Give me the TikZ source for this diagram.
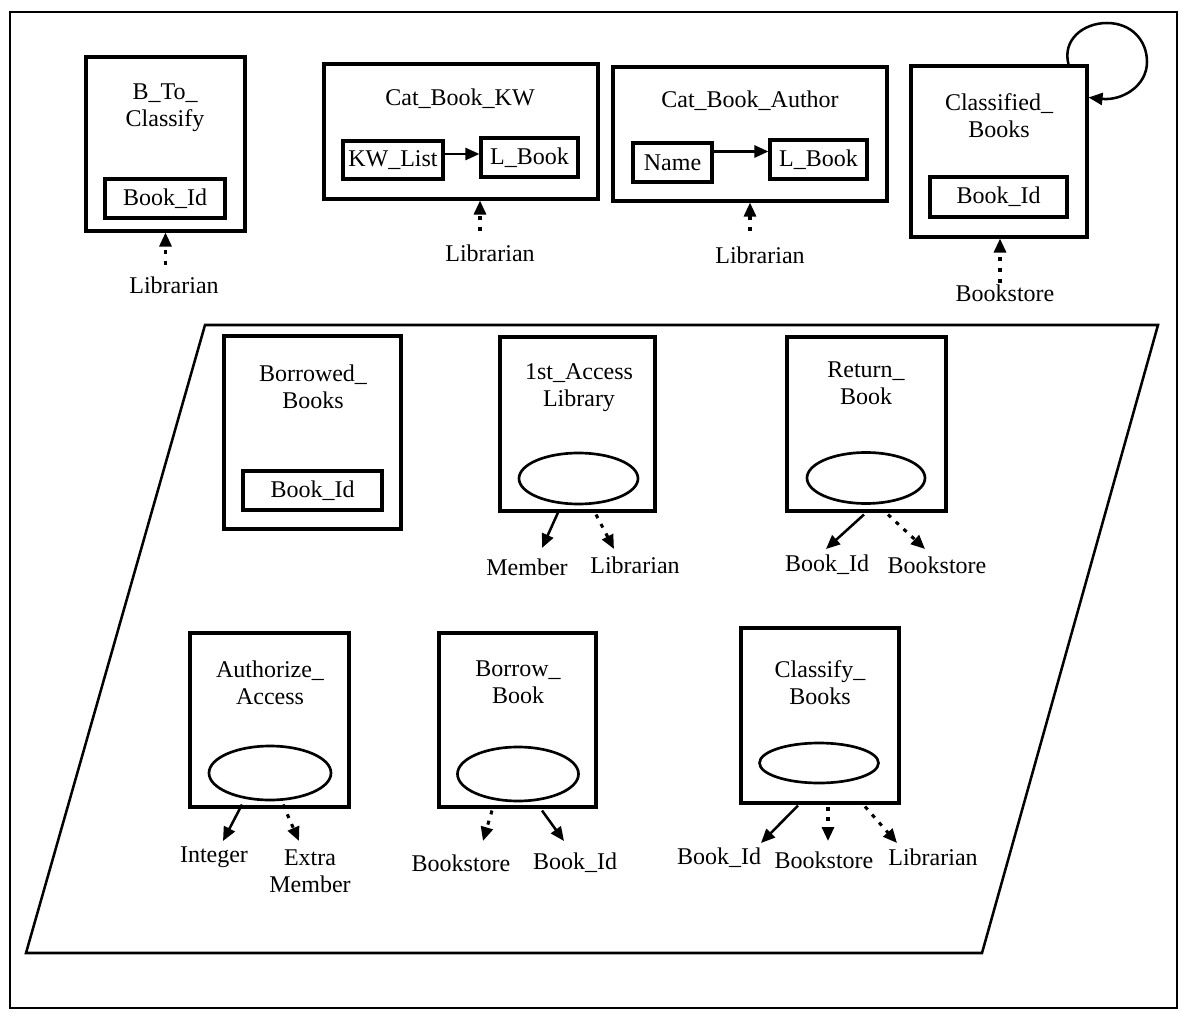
\documentclass[tikz,border=0pt]{standalone}
\usepackage{fontspec}
\setmainfont{Liberation Serif}
\usetikzlibrary{arrows.meta,calc,shapes.geometric}
\begin{document}
\begin{tikzpicture}[x=0.75pt,y=-0.75pt,
  bigbox/.style={draw,line width=2.3pt,inner sep=0pt},
  ibox/.style={draw,line width=2.3pt,inner sep=0pt,font=\fontsize{18}{20.25}\selectfont},
  txt/.style={inner sep=0pt,align=center,font=\fontsize{18}{20.25}\selectfont},
  oval/.style={draw,ellipse,line width=2pt,inner sep=0pt},
  solidarr/.style={line width=1.9pt,-{Triangle[length=10.5pt,width=9pt]}},
  dotarr/.style={line width=2.3pt,dash pattern=on 3pt off 5pt,-{Triangle[length=10.5pt,width=9pt]}},
]
\useasboundingbox (0,0) rectangle (1182,1013);
% outer frame
\draw[line width=2.2pt] (10,12) rectangle (1177,1008);
% parallelogram
\draw[line width=1.9pt] (205,325) -- (1158,325) -- (982,953) -- (26,953) -- cycle;

% ---------- top row ----------
\node[bigbox,minimum width=119.25pt,minimum height=130.5pt] (btc) at (165.5,144) {};
\node[txt] (btct) at (165,108) {B\_To\_\\Classify};
\node[ibox,minimum width=90pt,minimum height=29.25pt] (bid1) at (165,198.5) {Book\_Id};
\node[txt] (lib1) at (174,285) {Librarian};
\draw[dotarr] ($(btc.south)+(0,32)$) -- (btc.south);

\node[bigbox,minimum width=205.5pt,minimum height=101.25pt] (kw) at (461,131.5) {};
\node[txt] (kwt) at (460,99) {Cat\_Book\_KW};
\node[ibox,minimum width=75pt,minimum height=28.5pt] (kwl) at (393,160) {KW\_List};
\node[ibox,minimum width=72.75pt,minimum height=29.25pt] (lb1) at (529.5,157.5) {L\_Book};
\draw[solidarr] ($(kwl.east)+(0,-6)$) -- ($(kwl.east -| lb1.west)+(0,-6)$);
\node[txt] (lib2) at (490,253) {Librarian};
\draw[dotarr] ($(kw.south)+(19,30)$) -- ($(kw.south)+(19,0)$);

\node[bigbox,minimum width=205.5pt,minimum height=100.5pt] (au) at (750,134) {};
\node[txt] (aut) at (750,101) {Cat\_Book\_Author};
\node[ibox,minimum width=59.25pt,minimum height=29.25pt] (nm) at (672.5,162.5) {Name};
\node[ibox,minimum width=72.75pt,minimum height=29.25pt] (lb2) at (818.5,159.5) {L\_Book};
\draw[solidarr] ($(nm.east)+(0,-11)$) -- ($(nm.east -| lb2.west)+(0,-11)$);
\node[txt] (lib3) at (760,255) {Librarian};
\draw[dotarr] ($(au.south)+(0,28)$) -- (au.south);

\node[bigbox,minimum width=132pt,minimum height=128.25pt] (cb) at (999,151.5) {};
\node[txt] (cbt) at (999,115.5) {Classified\_\\Books};
\node[ibox,minimum width=102.75pt,minimum height=30pt] (bid2) at (998.5,197) {Book\_Id};
\node[txt] (bs1) at (1005,293) {Bookstore};
\draw[dotarr] ($(cb.south)+(1,44)$) -- ($(cb.south)+(1,0)$);
\coordinate (lp1) at (1107,23);
\coordinate (lp2) at (1147,62);
\draw[solidarr] ($(cb.north east)+(-20,0)$) .. controls (1062,40) and (1083,23) .. (lp1)
  .. controls (1131,23) and (1147,40) .. (lp2)
  .. controls (1147,86) and (1122,101) .. ($(cb.north east)+(0,33)$);

% ---------- middle row ----------
\node[bigbox,minimum width=132.75pt,minimum height=144.75pt] (bb) at (312.5,432.5) {};
\node[txt] (bbt) at (313,386.5) {Borrowed\_\\Books};
\node[ibox,minimum width=104.25pt,minimum height=29.25pt] (bid3) at (312.5,490.5) {Book\_Id};

\node[bigbox,minimum width=116.25pt,minimum height=130.5pt] (acc) at (577.5,424) {};
\node[txt] (acct) at (579,387.5) {1st\_Access\\Library};
\node[oval,minimum width=89.25pt,minimum height=38.25pt] (acce) at (578.5,478.5) {};
\node[txt] (mem1) at (527,567) {Member};
\node[txt] (lib4) at (635,565) {Librarian};
\coordinate (t1) at (542,548);
\coordinate (t2) at (614,549);
\draw[solidarr] ($(acc.south)+(-19.5,0)$) -- (t1);
\draw[dotarr] ($(acc.south)+(18.5,2)$) -- (t2);

\node[bigbox,minimum width=119.25pt,minimum height=130.5pt] (rb) at (866.5,424) {};
\node[txt] (rbt) at (866,383.5) {Return\_\\Book};
\node[oval,minimum width=88.5pt,minimum height=38.25pt] (rbe) at (866,478) {};
\node[txt] (bid4) at (827,565) {Book\_Id};
\node[txt] (bs2) at (937,565) {Bookstore};
\coordinate (t3) at (826,549);
\coordinate (t4) at (925,549);
\draw[solidarr] ($(rb.south)+(-2.5,2)$) -- (t3);
\draw[dotarr] ($(rb.south)+(21.5,2)$) -- (t4);

% ---------- bottom row ----------
\node[bigbox,minimum width=119.25pt,minimum height=130.5pt] (aa) at (269.5,720) {};
\node[txt] (aat) at (270,682.5) {Authorize\_\\Access};
\node[oval,minimum width=91.5pt,minimum height=40.5pt] (aae) at (270,773) {};
\node[txt] (int1) at (214,857) {Integer};
\node[txt] (em1) at (310,871) {Extra\\Member};
\coordinate (t5) at (223,841);
\coordinate (t6) at (299,841);
\draw[solidarr] ($(aa.south)+(-27.5,-4)$) -- (t5);
\draw[dotarr] ($(aa.south)+(13.5,-4)$) -- (t6);

\node[bigbox,minimum width=117.75pt,minimum height=130.5pt] (brb) at (517.5,720) {};
\node[txt] (brbt) at (518,682.5) {Borrow\_\\Book};
\node[oval,minimum width=90.75pt,minimum height=40.5pt] (brbe) at (518,774) {};
\node[txt] (bs3) at (461,863) {Bookstore};
\node[txt] (bid5) at (575,863) {Book\_Id};
\coordinate (t7) at (483,841);
\coordinate (t8) at (564,841);
\draw[dotarr] ($(brb.south)+(-25.5,2)$) -- (t7);
\draw[solidarr] ($(brb.south)+(24.5,2)$) -- (t8);

\node[bigbox,minimum width=118.5pt,minimum height=131.25pt] (cl) at (820,715.5) {};
\node[txt] (clt) at (820,683) {Classify\_\\Books};
\node[oval,minimum width=89.25pt,minimum height=30pt] (cle) at (819,763) {};
\node[txt] (bid6) at (719,858) {Book\_Id};
\node[txt] (bs4) at (824,860) {Bookstore};
\node[txt] (lib5) at (933,857) {Librarian};
\coordinate (t9) at (761,843);
\coordinate (t10) at (828,841);
\coordinate (t11) at (897,843);
\draw[solidarr] ($(cl.south)+(-22,1)$) -- (t9);
\draw[dotarr] ($(cl.south)+(8,2)$) -- (t10);
\draw[dotarr] ($(cl.south)+(45,2)$) -- (t11);
\end{tikzpicture}
\end{document}
